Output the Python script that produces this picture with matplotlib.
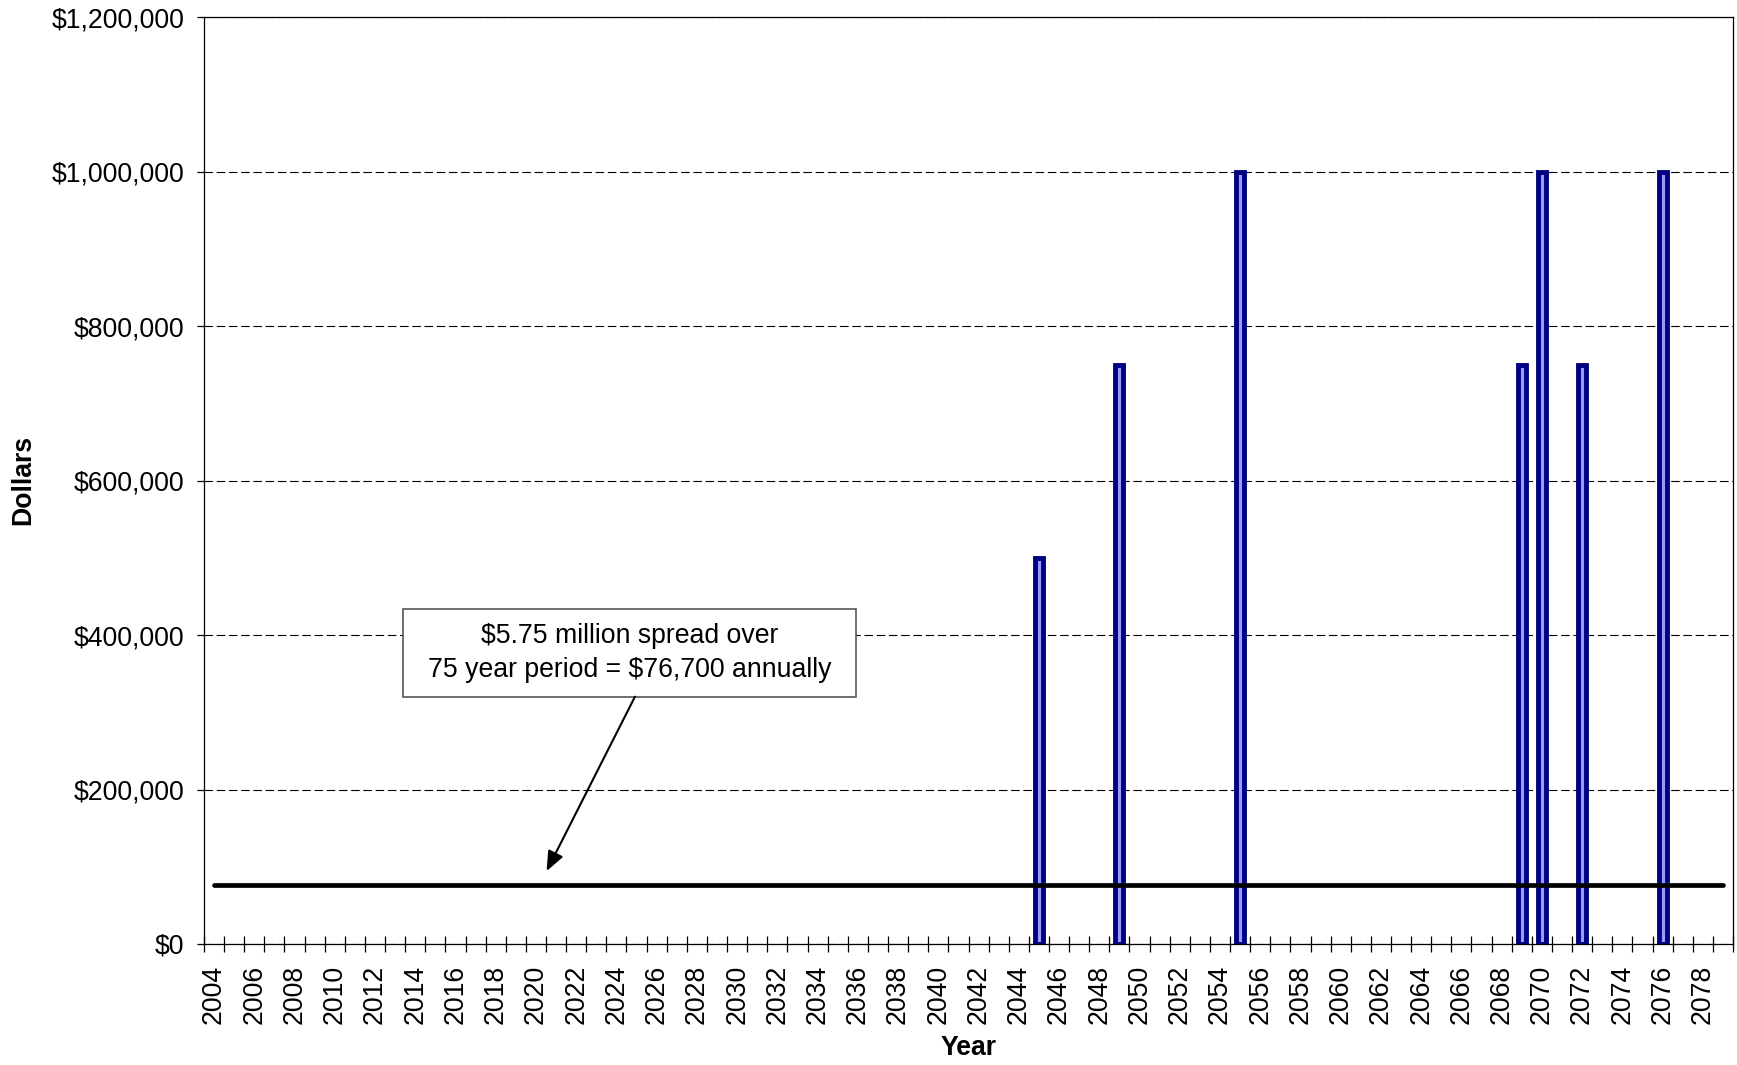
import matplotlib
matplotlib.use("Agg")
import matplotlib.pyplot as plt
from matplotlib.patches import Rectangle
from matplotlib.ticker import FuncFormatter, MultipleLocator, FixedLocator

# Year axis and projected one-time expenditures
years = list(range(2004, 2080))
spend_years = [2045, 2049, 2055, 2069, 2070, 2072, 2076]
spend_amounts = [500000, 750000, 1000000, 750000, 1000000, 750000, 1000000]
annual_average = 76700
year_labels = list(range(2004, 2080, 2))
note_text = "$5.75 million spread over\n75 year period = $76,700 annually"

FS = 19.2
plt.rcParams["font.family"] = ["Liberation Sans", "DejaVu Sans"]
plt.rcParams["font.size"] = FS

W, H = 1737, 1065
fig = plt.figure(figsize=(W / 100, H / 100), dpi=100)
left, right, top, bottom = 204, 1733, 17.3, 944
ax = fig.add_axes([left / W, 1 - bottom / H, (right - left) / W, (bottom - top) / H])

ax.set_xlim(years[0] - 0.5, years[-1] + 0.5)
ax.set_ylim(0, 1200000)
ax.set_axisbelow(True)

# Bars for each expenditure year
ax.bar(spend_years, spend_amounts, width=0.39, color="#9999FF",
       edgecolor="#000080", linewidth=3.5, zorder=2)

# Average annual cost line across the full period
ax.plot(years, [annual_average] * len(years), color="black", lw=3.4,
        solid_capstyle="round", zorder=3)

# Axes styling
for s in ax.spines.values():
    s.set_color("black")
    s.set_linewidth(0.9)

ax.yaxis.set_major_locator(MultipleLocator(200000))
ax.yaxis.set_major_formatter(FuncFormatter(lambda v, p: "${:,.0f}".format(v)))
ax.tick_params(axis="y", direction="out", length=5.3, width=0.9, pad=9,
               labelsize=FS)
ax.yaxis.grid(True, color="black", linestyle=(0, (7.7, 3.3)), linewidth=0.8)

ax.xaxis.set_major_locator(FixedLocator(year_labels))
ax.set_xticklabels([str(y) for y in year_labels], rotation=90)
ax.tick_params(axis="x", which="major", length=0, pad=15, labelsize=FS)
ax.xaxis.set_minor_locator(FixedLocator([y - 0.5 for y in years] + [years[-1] + 0.5]))
ax.tick_params(axis="x", which="minor", direction="inout", length=11, width=0.9)

fig.text(23 / W, 1 - 480 / H, "Dollars", rotation=90, ha="center", va="center",
         fontweight="bold", fontsize=FS)
fig.text(968.5 / W, 1 - 1048 / H, "Year", ha="center", va="center",
         fontweight="bold", fontsize=FS)

# Callout box with arrow pointing at the average line
box_x0, box_x1 = 2013.41, 2035.91
box_y0, box_y1 = 320200, 433800
ax.add_patch(Rectangle((box_x0, box_y0), box_x1 - box_x0, box_y1 - box_y0,
                       facecolor="white", edgecolor="#555555", lw=1.2, zorder=4))
ax.text((box_x0 + box_x1) / 2, (box_y0 + box_y1) / 2, note_text, ha="center",
        va="center", fontsize=FS, linespacing=1.38, parse_math=False, zorder=5)
ax.annotate("", xy=(2020.53, 94500), xytext=(2024.92, box_y0),
            arrowprops=dict(arrowstyle="-|>,head_length=0.6,head_width=0.25",
                            color="black", lw=1.5, mutation_scale=20,
                            shrinkA=0, shrinkB=0), zorder=5)

fig.savefig("out.png", dpi=100)
